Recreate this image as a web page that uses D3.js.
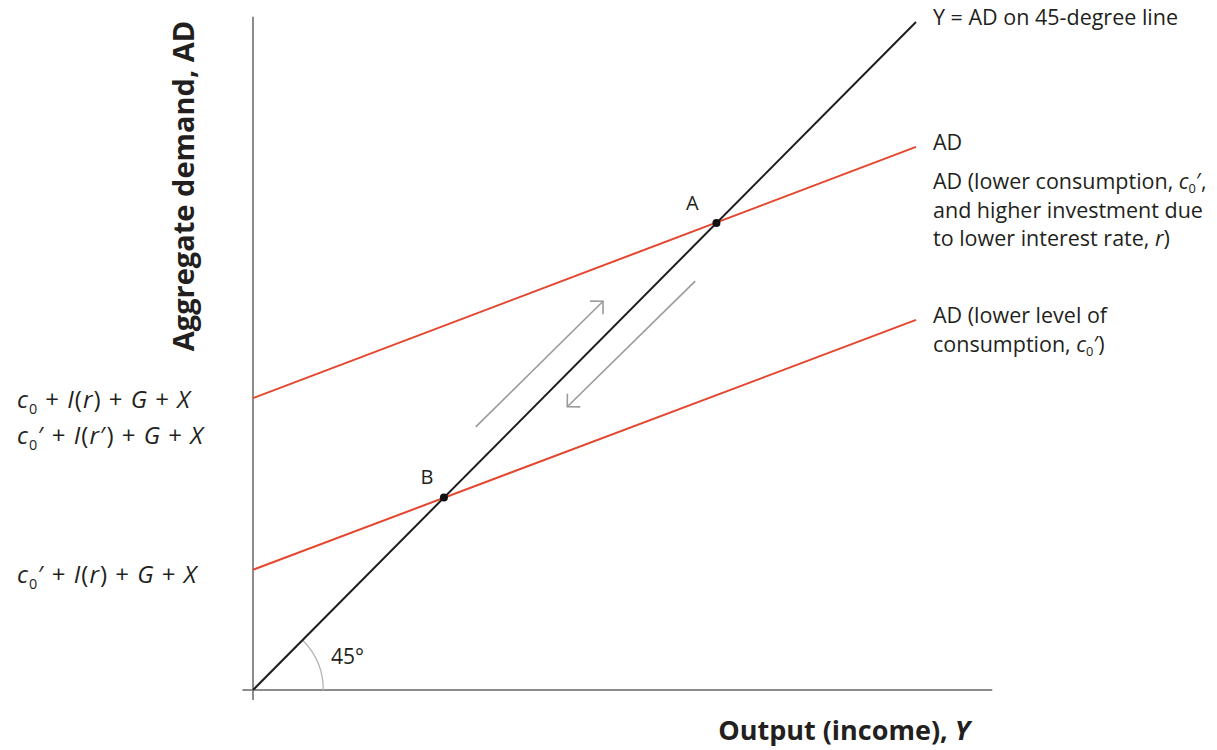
<!DOCTYPE html>
<html><head><meta charset="utf-8">
<script src="https://cdn.jsdelivr.net/npm/d3@7"></script>
<style>
html,body{margin:0;padding:0;background:#fff;}
svg{display:block;}
text{font-family:"Open Sans",sans-serif;fill:#231f20;}
</style></head>
<body>
<svg id="chart" width="1217" height="750"></svg>
<script>
// ---- data ----
const xDomain = [0, 100];
const yDomain = [0, 100];
const xAxisExtent = [-1.6, 111.5];
const yAxisExtent = [-1.5, 100.8];
const lineXs = [0, 100];
const line45 = [0, 100];          // Y = AD
const adUpper = [43.7, 81.3];     // AD at x = 0 and x = 100
const adLower = [18.0, 55.4];     // AD (lower level of consumption)
const pointNames = ["A", "B"];
const pointX = [69.9, 28.8];
const arrowUp = [[33.6, 39.4], [52.8, 58.2]];
const arrowDown = [[66.7, 61.2], [47.4, 42.4]];
const angleLabel = "45°";
const arcRadius = 10.6;

const svg = d3.select("#chart");
const x = d3.scaleLinear().domain(xDomain).range([253, 916]);
const y = d3.scaleLinear().domain(yDomain).range([690, 22]);

const RED = "#e4462e", AXIS = "#8c8c8c", ARROW = "#9b9b9b";

// axes
svg.append("line").attr("x1", x(0)).attr("x2", x(0))
  .attr("y1", y(yAxisExtent[1])).attr("y2", y(yAxisExtent[0]))
  .attr("stroke", AXIS).attr("stroke-width", 2);
svg.append("line").attr("x1", x(xAxisExtent[0])).attr("x2", x(xAxisExtent[1]))
  .attr("y1", y(0)).attr("y2", y(0))
  .attr("stroke", AXIS).attr("stroke-width", 2);

// 45° arc
const r = x(arcRadius) - x(0);
svg.append("path")
  .attr("d", d3.arc()({innerRadius: r, outerRadius: r, startAngle: Math.PI/2 - Math.PI/4, endAngle: Math.PI/2}))
  .attr("transform", `translate(${x(0)},${y(0)})`)
  .attr("fill", "none").attr("stroke", "#b5b5b5").attr("stroke-width", 1.3);
svg.append("text").attr("x", x(0) + 78).attr("y", y(0) - 26)
  .attr("font-size", 21).text(angleLabel);

const line = d3.line().x(d => x(d[0])).y(d => y(d[1]));
const pairs = vals => lineXs.map((xx, i) => [xx, vals[i]]);

// red AD lines
svg.append("path").attr("d", line(pairs(adUpper))).attr("fill", "none").attr("stroke", RED).attr("stroke-width", 2);
svg.append("path").attr("d", line(pairs(adLower))).attr("fill", "none").attr("stroke", RED).attr("stroke-width", 2);
// 45 line
svg.append("path").attr("d", line(pairs(line45))).attr("fill", "none").attr("stroke", "#1d1d1d").attr("stroke-width", 2);

// arrows
function arrow(seg) {
  svg.append("path").attr("d", line(seg)).attr("fill", "none").attr("stroke", ARROW).attr("stroke-width", 1.6);
  const [x1, y1] = [x(seg[0][0]), y(seg[0][1])];
  const [x2, y2] = [x(seg[1][0]), y(seg[1][1])];
  const ang = Math.atan2(y2 - y1, x2 - x1);
  const L = 13, spread = Math.PI / 4;
  const p1 = [x2 - L * Math.cos(ang - spread), y2 - L * Math.sin(ang - spread)];
  const p2 = [x2 - L * Math.cos(ang + spread), y2 - L * Math.sin(ang + spread)];
  svg.append("path").attr("d", `M${p1}L${x2},${y2}L${p2}`)
    .attr("fill", "none").attr("stroke", ARROW).attr("stroke-width", 1.6);
}
arrow(arrowUp);
arrow(arrowDown);

// points
pointX.forEach((px, i) => {
  svg.append("circle").attr("cx", x(px)).attr("cy", y(px)).attr("r", 4).attr("fill", "#111");
});
svg.append("text").attr("x", x(pointX[0]) - 24).attr("y", y(pointX[0]) - 13).attr("text-anchor", "middle").attr("font-size", 20).text(pointNames[0]);
svg.append("text").attr("x", x(pointX[1]) - 17).attr("y", y(pointX[1]) - 14).attr("text-anchor", "middle").attr("font-size", 20).text(pointNames[1]);

// right-side labels
const RX = 933, FS = 21.5;
function rlabel(yy, parts) {
  const t = svg.append("text").attr("x", RX).attr("y", yy).attr("font-size", FS);
  parts.forEach(p => {
    const ts = t.append("tspan").text(p.t);
    if (p.i) ts.attr("font-style", "italic");
    if (p.sub) ts.attr("font-size", FS * 0.6).attr("dy", 4);
    if (p.up) ts.attr("dy", -4);
  });
  return t;
}
rlabel(25, [{t: "Y = AD on 45-degree line"}]);
rlabel(150, [{t: "AD"}]);
rlabel(189, [{t: "AD (lower consumption, "}, {t: "c", i: 1}, {t: "0", sub: 1}, {t: "′,", up: 1}]);
rlabel(218, [{t: "and higher investment due"}]);
rlabel(246, [{t: "to lower interest rate, "}, {t: "r", i: 1}, {t: ")"}]);
rlabel(323, [{t: "AD (lower level of"}]);
rlabel(352, [{t: "consumption, "}, {t: "c", i: 1}, {t: "0", sub: 1}, {t: "′)", up: 1}]);

// left-side intercept labels
const LX = 17, LF = 24;
function llabel(yy, parts) {
  const t = svg.append("text").attr("x", LX).attr("y", yy).attr("font-size", LF).attr("letter-spacing", 1);
  parts.forEach(p => {
    const ts = t.append("tspan").text(p.t);
    if (p.i) ts.attr("font-style", "italic");
    if (p.sub) ts.attr("font-size", LF * 0.6).attr("dy", 6);
    if (p.up) ts.attr("dy", -6);
  });
}
llabel(408, [{t: "c", i: 1}, {t: "0", sub: 1}, {t: " + ", up: 1}, {t: "I", i: 1}, {t: "("}, {t: "r", i: 1}, {t: ") + "}, {t: "G", i: 1}, {t: " + "}, {t: "X", i: 1}]);
llabel(444, [{t: "c", i: 1}, {t: "0", sub: 1}, {t: "′ + ", up: 1}, {t: "I", i: 1}, {t: "("}, {t: "r", i: 1}, {t: "′) + "}, {t: "G", i: 1}, {t: " + "}, {t: "X", i: 1}]);
llabel(583, [{t: "c", i: 1}, {t: "0", sub: 1}, {t: "′ + ", up: 1}, {t: "I", i: 1}, {t: "("}, {t: "r", i: 1}, {t: ") + "}, {t: "G", i: 1}, {t: " + "}, {t: "X", i: 1}]);

// axis titles
svg.append("text").attr("transform", "translate(194,186) rotate(-90)")
  .attr("text-anchor", "middle").attr("font-size", 29).attr("font-weight", "bold")
  .text("Aggregate demand, AD");
const xt = svg.append("text").attr("x", 970).attr("y", 740).attr("text-anchor", "end")
  .attr("font-size", 27).attr("font-weight", "bold");
xt.append("tspan").text("Output (income), ");
xt.append("tspan").attr("font-style", "italic").text("Y");
</script>
</body></html>
